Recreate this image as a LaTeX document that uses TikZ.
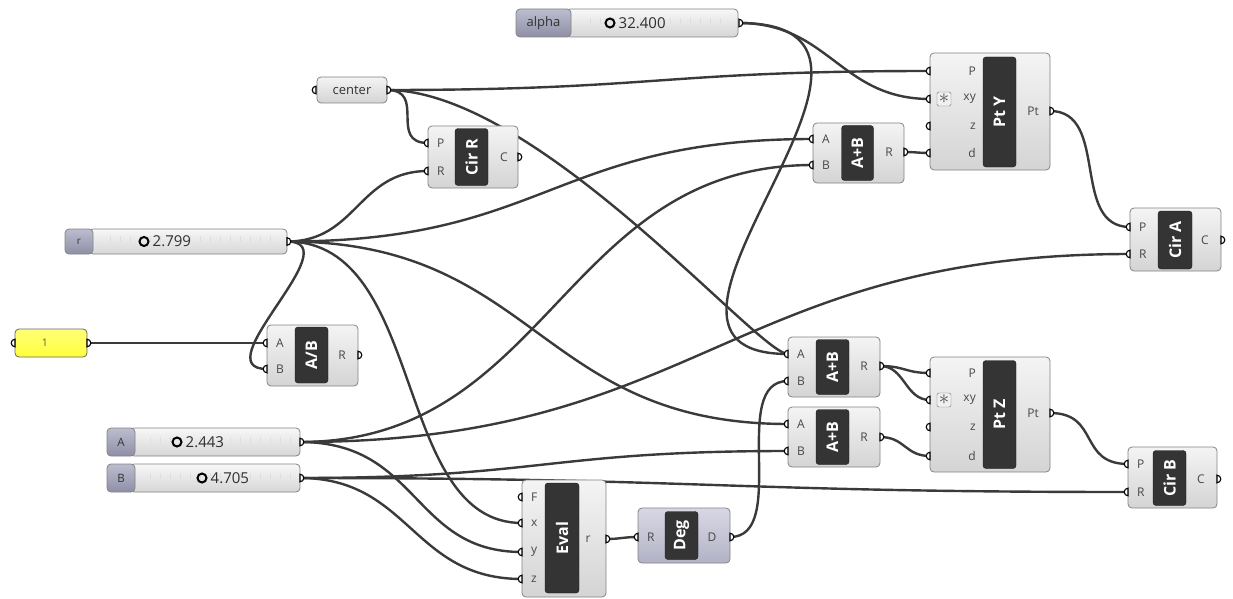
\documentclass[tikz,border=0pt]{standalone}
\usepackage{fontspec}
\setmainfont{Open Sans}
\setsansfont{Open Sans}
\definecolor{ghwire}{HTML}{3A3A3A}
\definecolor{ghedge}{HTML}{848484}
\definecolor{ghtop}{HTML}{F4F4F4}
\definecolor{ghbot}{HTML}{D4D4D4}
\definecolor{ghtabtop}{HTML}{BDBDD0}
\definecolor{ghtabbot}{HTML}{8E8EA6}
\definecolor{ghpurtop}{HTML}{D8D8E4}
\definecolor{ghpurbot}{HTML}{B2B2C6}
\definecolor{ghbar}{HTML}{343434}
\definecolor{ghyellow}{HTML}{FFFF3C}
\tikzset{
  pics/inp/.style={code={\filldraw[fill=white, draw=black, line width=1.1pt] (0,3.8) arc (90:270:3.8) -- cycle;}},
  pics/outp/.style={code={\filldraw[fill=white, draw=black, line width=1.1pt] (0,3.8) arc (90:-90:3.8) -- cycle;}}
}
\begin{document}
\begin{tikzpicture}[x=1pt,y=-1pt,
  wire/.style={draw=ghwire, line width=2.4pt},
  comp/.style={draw=ghedge, line width=0.8pt, rounded corners=4pt, top color=ghtop, bottom color=ghbot, anchor=north west, inner sep=0pt, outer sep=0pt},
  degbox/.style={comp, top color=ghpurtop, bottom color=ghpurbot},
  bar/.style={draw=black!90, fill=ghbar, rounded corners=3pt, rotate=90, text=white, inner sep=0pt, font=\bfseries\fontsize{16}{16}\selectfont},
  plab/.style={inner sep=0pt, text=black!72, font=\fontsize{12}{12}\selectfont},
  sbody/.style={comp, top color=black!3, bottom color=black!16},
  stab/.style={comp, top color=ghtabtop, bottom color=ghtabbot, text=black!80, font=\fontsize{13}{13}\selectfont},
  ticks/.style={draw=black!13, line width=6pt, dash pattern=on 0.7pt off 9.3pt},
  knob/.style={circle, draw=black, line width=2pt, minimum size=9pt, inner sep=0pt},
  sval/.style={anchor=west, inner sep=0pt, text=black!82, font=\fontsize{15}{15}\selectfont},
  panel/.style={comp, draw=black!60, top color=ghyellow!70!white, bottom color=ghyellow},
  mod/.style={draw=black!55, fill=black!6, rounded corners=1.5pt, minimum size=14pt, inner sep=0pt, text=black!70}]
\fill[white] (0,0) rectangle (1233,599);
\useasboundingbox (0,0) rectangle (1233,599);

\coordinate (alphaO) at (739,23);
\coordinate (centerI) at (316,90);
\coordinate (centerO) at (387,90);
\coordinate (rO) at (287,241.5);
\coordinate (oneI) at (15,343);
\coordinate (oneO) at (87,343);
\coordinate (aO) at (300,442);
\coordinate (bO) at (300,478);
\coordinate (cirRP) at (428,143);
\coordinate (cirRR) at (428,171);
\coordinate (cirRC) at (518,157);
\coordinate (topA) at (813,139);
\coordinate (topB) at (813,165);
\coordinate (topR) at (904,152);
\coordinate (ptyP) at (930,71);
\coordinate (ptyXY) at (930,99);
\coordinate (ptyZ) at (930,126);
\coordinate (ptyD) at (930,153);
\coordinate (ptyPt) at (1050,111);
\coordinate (cirAP) at (1130,227);
\coordinate (cirAR) at (1130,254);
\coordinate (cirAC) at (1221,240);
\coordinate (abA) at (267,343);
\coordinate (abB) at (267,369);
\coordinate (abR) at (358,355);
\coordinate (midA) at (788,354);
\coordinate (midB) at (788,381);
\coordinate (midR) at (880,366);
\coordinate (lowA) at (788,424);
\coordinate (lowB) at (788,451);
\coordinate (lowR) at (880,437);
\coordinate (ptzP) at (930,373);
\coordinate (ptzXY) at (930,400);
\coordinate (ptzZ) at (930,427);
\coordinate (ptzD) at (930,456);
\coordinate (ptzPt) at (1050,413);
\coordinate (evalF) at (522,497);
\coordinate (evalX) at (522,523);
\coordinate (evalY) at (522,552);
\coordinate (evalZ) at (522,579);
\coordinate (evalR) at (606,539);
\coordinate (degR) at (638,537);
\coordinate (degD) at (730,537);
\coordinate (cirBP) at (1128,464);
\coordinate (cirBR) at (1128,492);
\coordinate (cirBC) at (1217,479);

\draw[wire] (alphaO) .. controls +(90,0) and +(-90,0) .. (ptyXY);
\draw[wire] (alphaO) .. controls +(220,0) and +(-200,0) .. (midA);
\draw[wire] (centerO) .. controls +(270,0) and +(-270,0) .. (ptyP);
\draw[wire] (centerO) .. controls +(40,0) and +(-40,0) .. (cirRP);
\draw[wire] (centerO) .. controls +(150,0) and +(-30,0) .. (midA);
\draw[wire] (rO) .. controls +(70,0) and +(-70,0) .. (cirRR);
\draw[wire] (rO) .. controls +(260,0) and +(-260,0) .. (topA);
\draw[wire] (rO) .. controls +(65,0) and +(-65,0) .. (abB);
\draw[wire] (rO) .. controls +(140,0) and +(-130,0) .. (evalX);
\draw[wire] (rO) .. controls +(250,0) and +(-250,0) .. (lowA);
\draw[wire] (oneO) .. controls +(60,0) and +(-60,0) .. (abA);
\draw[wire] (aO) .. controls +(250,0) and +(-250,0) .. (topB);
\draw[wire] (aO) .. controls +(400,0) and +(-400,0) .. (cirAR);
\draw[wire] (aO) .. controls +(120,0) and +(-110,0) .. (evalY);
\draw[wire] (bO) .. controls +(240,0) and +(-240,0) .. (lowB);
\draw[wire] (bO) .. controls +(400,0) and +(-400,0) .. (cirBR);
\draw[wire] (bO) .. controls +(110,0) and +(-110,0) .. (evalZ);
\draw[wire] (evalR) .. controls +(15,0) and +(-15,0) .. (degR);
\draw[wire] (degD) .. controls +(60,0) and +(-60,0) .. (midB);
\draw[wire] (topR) .. controls +(12,0) and +(-12,0) .. (ptyD);
\draw[wire] (midR) .. controls +(25,0) and +(-25,0) .. (ptzP);
\draw[wire] (midR) .. controls +(25,0) and +(-25,0) .. (ptzXY);
\draw[wire] (lowR) .. controls +(25,0) and +(-25,0) .. (ptzD);
\draw[wire] (ptyPt) .. controls +(60,0) and +(-60,0) .. (cirAP);
\draw[wire] (ptzPt) .. controls +(50,0) and +(-50,0) .. (cirBP);

\node[sbody, minimum width=172, minimum height=28] (alphaS) at (566,9) {};
\draw[ticks] (590,21) -- (730,21);
\node[stab, minimum width=55, minimum height=28] (alphaT) at (516,9) {alpha};
\node[knob] (alphaK) at (610,23) {};
\node[sval] (alphaV) at (618.5,23) {32.400};

\node[sbody, minimum width=198, minimum height=25] (rS) at (89,229) {};
\draw[ticks] (110,239) -- (280,239);
\node[stab, minimum width=28, minimum height=25, font=\fontsize{10}{10}\selectfont] (rT) at (65,229) {r};
\node[knob] (rK) at (144,241.5) {};
\node[sval] (rV) at (152.5,241.5) {2.799};

\node[sbody, minimum width=170, minimum height=28] (aS) at (130,428) {};
\draw[ticks] (150,440) -- (294,440);
\node[stab, minimum width=28, minimum height=28, font=\fontsize{11.5}{12}\selectfont] (aT) at (107,428) {A};
\node[knob] (aK) at (177,442) {};
\node[sval] (aV) at (185.5,442) {2.443};

\node[sbody, minimum width=170, minimum height=28] (bS) at (130,464) {};
\draw[ticks] (150,476) -- (294,476);
\node[stab, minimum width=28, minimum height=28, font=\fontsize{11.5}{12}\selectfont] (bT) at (107,464) {B};
\node[knob] (bK) at (202,478) {};
\node[sval] (bV) at (210.5,478) {4.705};

\node[comp, minimum width=70, minimum height=26, text=black!80, font=\fontsize{13}{13}\selectfont] (center) at (317,77) {center};
\node[panel, minimum width=72, minimum height=28] (one) at (15,329) {};
\node[plab, font=\fontsize{10.5}{11}\selectfont, text=black!70!yellow] (oneV) at (45,343) {1};

\node[comp, minimum width=90, minimum height=62] (cirR) at (428,126) {};
\node[bar, minimum width=57, minimum height=33] (cirRbar) at (471.5,157) {Cir R};
\node[plab, anchor=west] (cirRlP) at (437,143) {P};
\node[plab, anchor=west] (cirRlR) at (437,171) {R};
\node[plab] (cirRlC) at (504,157) {C};

\node[comp, minimum width=91, minimum height=60] (top) at (813,123) {};
\node[bar, minimum width=55, minimum height=32] (topbar) at (857.5,153) {A+B};
\node[plab, anchor=west] (toplA) at (822,139) {A};
\node[plab, anchor=west] (toplB) at (822,165) {B};
\node[plab] (toplR) at (889,152) {R};

\node[comp, minimum width=120, minimum height=117] (pty) at (930,53) {};
\node[bar, minimum width=110, minimum height=33] (ptybar) at (999.5,112) {Pt Y};
\node[plab, anchor=east] (ptylP) at (976,71) {P};
\node[mod] (ptyM) at (944,99) {\fontsize{20}{20}\selectfont$\ast$};
\node[plab, anchor=east] (ptylXY) at (976,99) {xy};
\node[plab, anchor=east] (ptylZ) at (976,126) {z};
\node[plab, anchor=east] (ptylD) at (976,153) {d};
\node[plab] (ptylPt) at (1033,111) {Pt};

\node[comp, minimum width=91, minimum height=63] (cirA) at (1130,208) {};
\node[bar, minimum width=58, minimum height=34] (cirAbar) at (1175,240) {Cir A};
\node[plab, anchor=west] (cirAlP) at (1139,227) {P};
\node[plab, anchor=west] (cirAlR) at (1139,254) {R};
\node[plab] (cirAlC) at (1205,240) {C};

\node[comp, minimum width=91, minimum height=61] (ab) at (267,325) {};
\node[bar, minimum width=56, minimum height=33] (abbar) at (311.5,355) {A/B};
\node[plab, anchor=west] (ablA) at (276,343) {A};
\node[plab, anchor=west] (ablB) at (276,369) {B};
\node[plab] (ablR) at (342,355) {R};

\node[comp, minimum width=92, minimum height=60] (mid) at (788,337) {};
\node[bar, minimum width=55, minimum height=33] (midbar) at (832.5,367) {A+B};
\node[plab, anchor=west] (midlA) at (797,354) {A};
\node[plab, anchor=west] (midlB) at (797,381) {B};
\node[plab] (midlR) at (864,366) {R};

\node[comp, minimum width=92, minimum height=60] (low) at (788,407) {};
\node[bar, minimum width=55, minimum height=33] (lowbar) at (832.5,437) {A+B};
\node[plab, anchor=west] (lowlA) at (797,424) {A};
\node[plab, anchor=west] (lowlB) at (797,451) {B};
\node[plab] (lowlR) at (864,437) {R};

\node[comp, minimum width=120, minimum height=115] (ptz) at (930,357) {};
\node[bar, minimum width=108, minimum height=33] (ptzbar) at (999.5,414.5) {Pt Z};
\node[plab, anchor=east] (ptzlP) at (976,373) {P};
\node[mod] (ptzM) at (944,400) {\fontsize{20}{20}\selectfont$\ast$};
\node[plab, anchor=east] (ptzlXY) at (976,400) {xy};
\node[plab, anchor=east] (ptzlZ) at (976,427) {z};
\node[plab, anchor=east] (ptzlD) at (976,456) {d};
\node[plab] (ptzlPt) at (1033,413) {Pt};

\node[comp, minimum width=84, minimum height=117] (eval) at (522,480) {};
\node[bar, minimum width=110, minimum height=34] (evalbar) at (562,538) {Eval};
\node[plab, anchor=west] (evallF) at (531,497) {F};
\node[plab, anchor=west] (evallX) at (531,523) {x};
\node[plab, anchor=west] (evallY) at (531,552) {y};
\node[plab, anchor=west] (evallZ) at (531,579) {z};
\node[plab] (evallR) at (588,539) {r};

\node[degbox, minimum width=92, minimum height=55] (deg) at (638,508) {};
\node[bar, minimum width=48, minimum height=33] (degbar) at (681.5,535.5) {Deg};
\node[plab, anchor=west] (deglR) at (647,537) {R};
\node[plab] (deglD) at (712,537) {D};

\node[comp, minimum width=89, minimum height=61] (cirB) at (1128,447) {};
\node[bar, minimum width=55, minimum height=33] (cirBbar) at (1169.5,478) {Cir B};
\node[plab, anchor=west] (cirBlP) at (1137,464) {P};
\node[plab, anchor=west] (cirBlR) at (1137,492) {R};
\node[plab] (cirBlC) at (1201,479) {C};

\pic at (alphaO) {outp};
\pic at (centerI) {inp};
\pic at (centerO) {outp};
\pic at (rO) {outp};
\pic at (oneI) {inp};
\pic at (oneO) {outp};
\pic at (aO) {outp};
\pic at (bO) {outp};
\pic at (cirRP) {inp};
\pic at (cirRR) {inp};
\pic at (cirRC) {outp};
\pic at (topA) {inp};
\pic at (topB) {inp};
\pic at (topR) {outp};
\pic at (ptyP) {inp};
\pic at (ptyXY) {inp};
\pic at (ptyZ) {inp};
\pic at (ptyD) {inp};
\pic at (ptyPt) {outp};
\pic at (cirAP) {inp};
\pic at (cirAR) {inp};
\pic at (cirAC) {outp};
\pic at (abA) {inp};
\pic at (abB) {inp};
\pic at (abR) {outp};
\pic at (midA) {inp};
\pic at (midB) {inp};
\pic at (midR) {outp};
\pic at (lowA) {inp};
\pic at (lowB) {inp};
\pic at (lowR) {outp};
\pic at (ptzP) {inp};
\pic at (ptzXY) {inp};
\pic at (ptzZ) {inp};
\pic at (ptzD) {inp};
\pic at (ptzPt) {outp};
\pic at (evalF) {inp};
\pic at (evalX) {inp};
\pic at (evalY) {inp};
\pic at (evalZ) {inp};
\pic at (evalR) {outp};
\pic at (degR) {inp};
\pic at (degD) {outp};
\pic at (cirBP) {inp};
\pic at (cirBR) {inp};
\pic at (cirBC) {outp};
\end{tikzpicture}
\end{document}
